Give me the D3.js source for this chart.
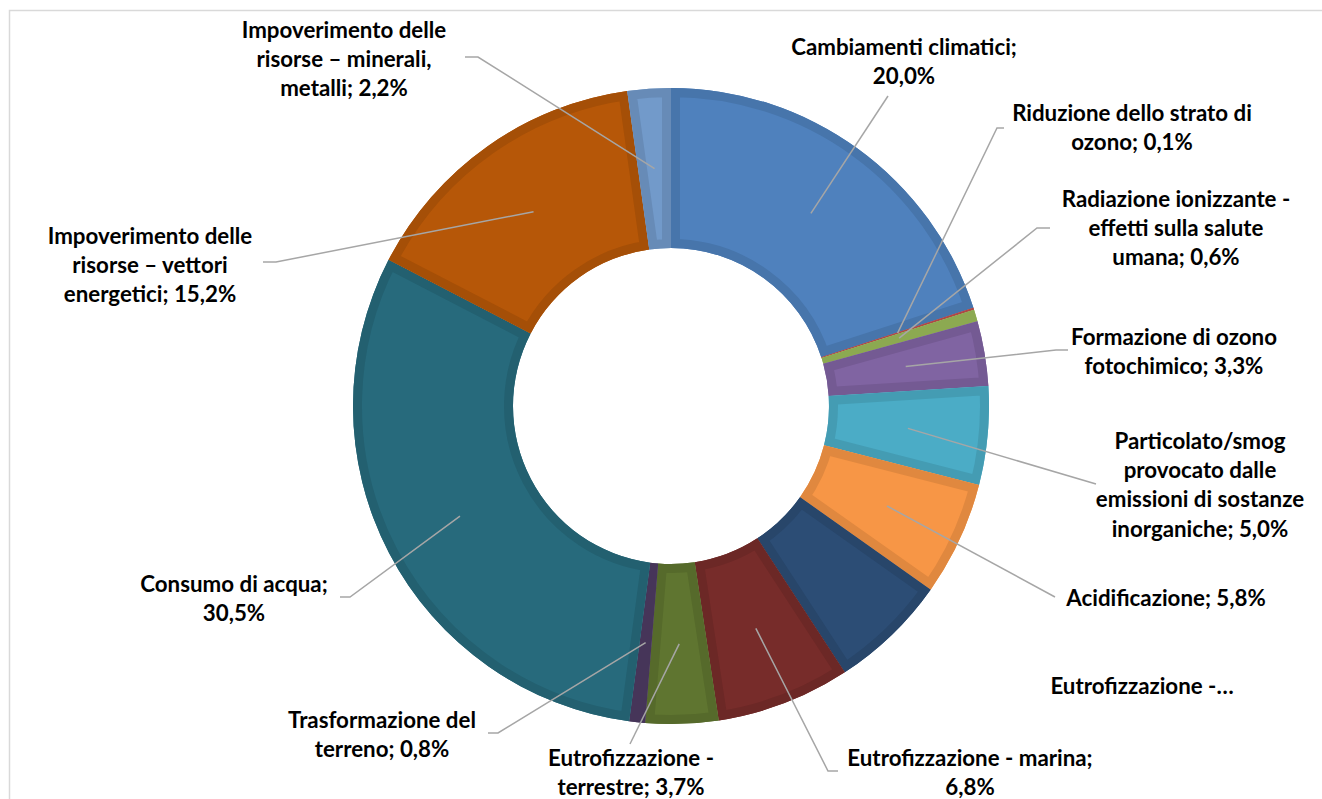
<!DOCTYPE html>
<html>
<head>
<meta charset="utf-8">
<script src="https://cdn.jsdelivr.net/npm/d3@7"></script>
<style>
  html, body { margin: 0; padding: 0; background: #fff; }
  svg { display: block; }
  .lbl { font-family: Lato, "Open Sans", sans-serif; font-weight: 700; font-size: 22.3px; fill: #000; }
</style>
</head>
<body>
<svg id="chart" width="1322" height="799"></svg>
<script>
// Impact categories, clockwise from 12 o'clock
const categories = [
  "Cambiamenti climatici",
  "Riduzione dello strato di ozono",
  "Radiazione ionizzante - effetti sulla salute umana",
  "Formazione di ozono fotochimico",
  "Particolato/smog provocato dalle emissioni di sostanze inorganiche",
  "Acidificazione",
  "Eutrofizzazione - acqua dolce",
  "Eutrofizzazione - marina",
  "Eutrofizzazione - terrestre",
  "Trasformazione del terreno",
  "Consumo di acqua",
  "Impoverimento delle risorse – vettori energetici",
  "Impoverimento delle risorse – minerali, metalli"
];

// Share of the total impact (%)
const values = [20.0, 0.1, 0.6, 3.3, 5.0, 5.8, 6.0, 6.8, 3.7, 0.8, 30.5, 15.2, 2.2];

const colors = [
  "#4F81BD", "#C0504D", "#9BBB59", "#8064A2", "#4BACC6", "#F79646",
  "#2C4D75", "#772C2A", "#5F7530", "#4D3B62", "#276A7C", "#B65708", "#729ACA"
];

// Wrapped label lines; {v} is replaced by the formatted value
const labelLines = [
  ["Cambiamenti climatici;", "{v}"],
  ["Riduzione dello strato di", "ozono; {v}"],
  ["Radiazione ionizzante -", "effetti sulla salute", "umana; {v}"],
  ["Formazione di ozono", "fotochimico; {v}"],
  ["Particolato/smog", "provocato dalle", "emissioni di sostanze", "inorganiche; {v}"],
  ["Acidificazione; {v}"],
  ["Eutrofizzazione -…"],
  ["Eutrofizzazione - marina;", "{v}"],
  ["Eutrofizzazione -", "terrestre; {v}"],
  ["Trasformazione del", "terreno; {v}"],
  ["Consumo di acqua;", "{v}"],
  ["Impoverimento delle", "risorse – vettori", "energetici; {v}"],
  ["Impoverimento delle", "risorse – minerali,", "metalli; {v}"]
];

// Label block centre (x, first line y) and leader-line end points
const labelLayout = [
  { x: 904,  y: 47,  leader: [[888, 96]] },
  { x: 1132, y: 113, leader: [[997, 128], [1004, 128]] },
  { x: 1176, y: 199, leader: [[1037, 228], [1050, 228]] },
  { x: 1174, y: 337, leader: [[1056, 350], [1068, 350]] },
  { x: 1200, y: 441, leader: [[1096, 484]] },
  { x: 1166, y: 598, leader: [[1055, 597]] },
  { x: 1142, y: 686, leader: null },
  { x: 970,  y: 758, leader: [[828, 771], [838, 771]] },
  { x: 631,  y: 758, leader: [[630, 744]] },
  { x: 382,  y: 720, leader: [[498, 733], [488, 733]] },
  { x: 234,  y: 584, leader: [[350, 597], [340, 597]] },
  { x: 150,  y: 236, leader: [[276, 262], [263, 262]] },
  { x: 344,  y: 30,  leader: [[478, 57], [465, 57]] }
];

const W = 1322, H = 799;
const cx = 671, cy = 406;
const outerR = 318, innerR = 158;
const lineH = 29.3;

const svg = d3.select("#chart");

// outer frame
svg.append("rect")
  .attr("x", 9.5).attr("y", 10.5)
  .attr("width", W).attr("height", H)
  .attr("fill", "none").attr("stroke", "#D9D9D9").attr("stroke-width", 1.5);

const fmt = v => d3.format(".1f")(v).replace(".", ",") + "%";

const data = categories.map((c, i) => ({ name: c, value: values[i], color: colors[i], i }));

const pie = d3.pie().value(d => d.value).sort(null);
const arcs = pie(data);
const arc = d3.arc().innerRadius(innerR).outerRadius(outerR);

const g = svg.append("g").attr("transform", `translate(${cx},${cy})`);
const defs = svg.append("defs");

arcs.forEach((a, i) => {
  defs.append("clipPath").attr("id", "clip" + i)
    .append("path").attr("d", arc(a));
});

// slices: fill plus a darker inner rim clipped to the slice
const slices = g.selectAll("g.slice").data(arcs).join("g").attr("class", "slice");
slices.append("path")
  .attr("d", arc)
  .attr("fill", d => d.data.color);
slices.append("path")
  .attr("d", arc)
  .attr("fill", "none")
  .attr("clip-path", (d, i) => `url(#clip${i})`)
  .attr("stroke", d => d3.color(d.data.color).darker(0.28))
  .attr("stroke-width", 18)
  .attr("stroke-linejoin", "miter");

// leader lines from slice centroid to label
const lineGen = d3.line();
arcs.forEach((a, i) => {
  const lay = labelLayout[i];
  if (!lay.leader) return;
  const c = arc.centroid(a);
  const pts = [[cx + c[0], cy + c[1]], ...lay.leader];
  svg.append("path")
    .attr("d", lineGen(pts))
    .attr("fill", "none")
    .attr("stroke", "#A6A6A6")
    .attr("stroke-width", 1.5);
});

// labels
arcs.forEach((a, i) => {
  const lay = labelLayout[i];
  const lines = labelLines[i].map(s => s.replace("{v}", fmt(a.data.value)));
  const t = svg.append("text")
    .attr("class", "lbl")
    .attr("text-anchor", "middle")
    .attr("x", lay.x).attr("y", lay.y);
  lines.forEach((s, k) => {
    t.append("tspan")
      .attr("x", lay.x)
      .attr("y", lay.y + k * lineH)
      .attr("dy", "0.35em")
      .text(s);
  });
});
</script>
</body>
</html>
